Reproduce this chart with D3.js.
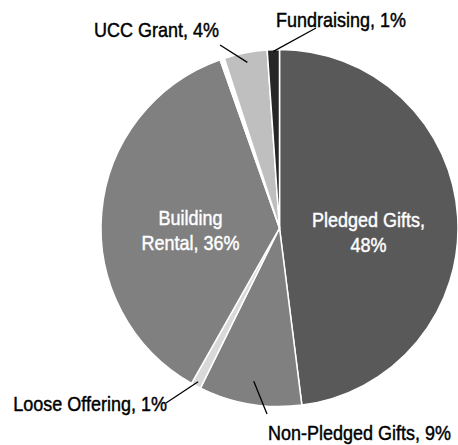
<!DOCTYPE html>
<html>
<head>
<meta charset="utf-8">
<script src="https://cdn.jsdelivr.net/npm/d3@7"></script>
<style>
  html, body { margin: 0; padding: 0; background: #fff; }
  svg text { font-family: "Liberation Sans Narrow", "Arial Narrow", "Liberation Sans", Arial, sans-serif; font-size: 21px; }
</style>
</head>
<body>
<div id="vis"></div>
<script>

var categories = ["Pledged Gifts", "Non-Pledged Gifts", "Loose Offering", "Building Rental", "Other", "UCC Grant", "Fundraising"];
var values = [48.0, 9.3, 0.9, 36.4, 0.4, 3.9, 1.1];
var colors = ["#595959", "#808080", "#d9d9d9", "#808080", "#ffffff", "#bfbfbf", "#262626"];

var width = 458;
var height = 445;
var cx = 279.5, cy = 228, radius = 178.5;

// inside labels: split into two lines, placed on the centroid
var insideLabels = {
  "Pledged Gifts": ["Pledged Gifts,", "{p}"],
  "Building Rental": ["Building", "Rental, {p}"]
};

// outside labels: text anchor point, leader end point, leader start radius (fraction of r)
var outsideLabels = {
  "Fundraising": { x: 276, y: 27, anchor: "start", lx: 316, ly: 28, k: 0.99 },
  "UCC Grant": { x: 219, y: 37.5, anchor: "end", lx: 220, ly: 45, k: 0.945 },
  "Loose Offering": { x: 167, y: 411.5, anchor: "end", lx: 166, ly: 403, k: 0.975 },
  "Non-Pledged Gifts": { x: 268, y: 440.5, anchor: "start", lx: 267, ly: 414, k: 0.87 }
};

var total = d3.sum(values);
var data = categories.map(function (c, i) {
  return { name: c, value: values[i], color: colors[i], pct: Math.round(values[i] / total * 100) + '%' };
});

var svg = d3.select('#vis').append('svg')
  .attr('width', width)
  .attr('height', height);

var pie = d3.pie().sort(null).value(function (d) { return d.value; });
var arcs = pie(data);

var arc = d3.arc().innerRadius(0).outerRadius(radius);

var g = svg.append('g').attr('transform', 'translate(' + cx + ',' + cy + ')');

g.selectAll('path.slice')
  .data(arcs)
  .enter().append('path')
  .attr('class', 'slice')
  .attr('d', arc)
  .attr('fill', function (d) { return d.data.color; })
  .attr('stroke', '#ffffff')
  .attr('stroke-width', 1.5)
  .attr('stroke-linejoin', 'round');

// is the narrow face there? if not squeeze text horizontally
var probe = svg.append('text').text('Non-Pledged Gifts, 9%');
var probeW = probe.node().getComputedTextLength();
probe.remove();
var squeeze = probeW > 200 ? 183 / probeW : 1;

function squeezeText(sel, x, col) {
  // a hair of stroke to get closer to the heavier narrow face
  sel.attr('stroke', col).attr('stroke-width', squeeze === 1 ? 0 : 0.45);
  if (squeeze === 1) return;
  sel.attr('transform', 'translate(' + x + ',0) scale(' + squeeze + ',1) translate(' + (-x) + ',0)');
}

var labelArc = d3.arc().innerRadius(radius * 0.5).outerRadius(radius * 0.5);

arcs.forEach(function (d) {
  var name = d.data.name;
  if (insideLabels[name]) {
    var c = labelArc.centroid(d);
    var x = cx + c[0], y = cy + c[1];
    insideLabels[name].forEach(function (line, i) {
      var t = svg.append('text')
        .attr('x', x)
        .attr('y', y + 4.5 + i * 25.6)
        .attr('text-anchor', 'middle')
        .attr('fill', '#ffffff')
        .text(line.replace('{p}', d.data.pct));
      squeezeText(t, x, '#ffffff');
    });
  } else if (outsideLabels[name]) {
    var o = outsideLabels[name];
    var s = d3.arc().innerRadius(radius * o.k).outerRadius(radius * o.k).centroid(d);
    svg.append('line')
      .attr('x1', cx + s[0])
      .attr('y1', cy + s[1])
      .attr('x2', o.lx)
      .attr('y2', o.ly)
      .attr('stroke', '#000')
      .attr('stroke-width', 1.3);
    var t = svg.append('text')
      .attr('x', o.x)
      .attr('y', o.y)
      .attr('text-anchor', o.anchor)
      .attr('fill', '#000')
      .text(name + ', ' + d.data.pct);
    squeezeText(t, o.x, '#000');
  }
});

</script>
</body>
</html>
